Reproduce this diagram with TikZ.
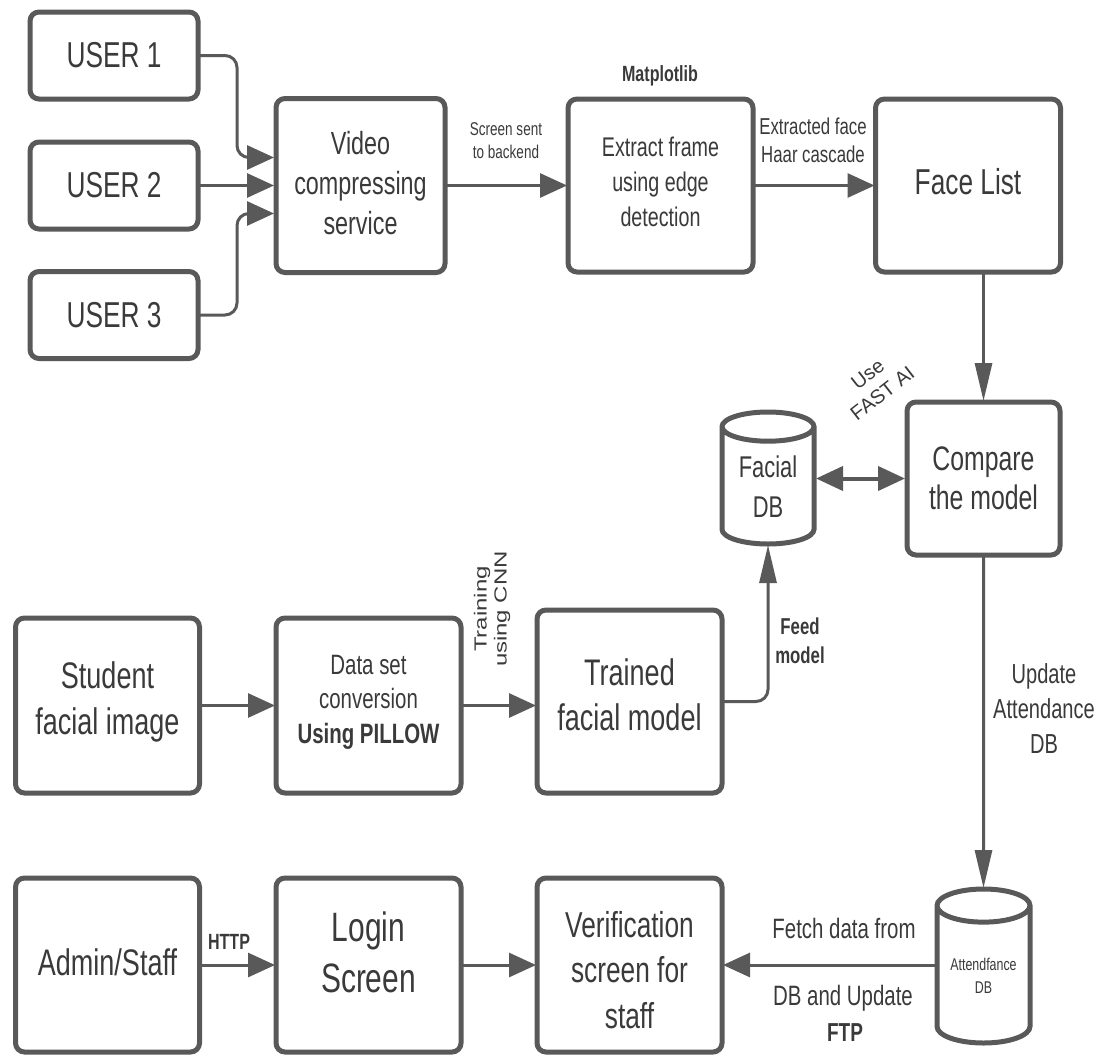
\documentclass[tikz,border=0pt]{standalone}
\usepackage{fontspec}
\setmainfont{Liberation Sans}
\newfontfamily\nf[FakeStretch=0.73]{Liberation Sans}
\newfontfamily\nfr[FakeStretch=1.37]{Liberation Sans}
\usetikzlibrary{arrows.meta,shapes.geometric,calc}
\definecolor{ln}{HTML}{595959}
\definecolor{tx}{HTML}{3A3A3A}
\newcommand\fsz[2]{\fontsize{#1}{#2}\selectfont}
\tikzset{
  box/.style={draw=ln,line width=5pt,rounded corners=9pt,fill=white,outer sep=0pt,inner sep=0pt,align=center,text=tx},
  cyl/.style={draw=ln,line width=5pt,fill=white,shape=cylinder,shape border rotate=90,aspect=0.5,anchor=shape center,outer sep=0pt,inner sep=0pt,align=center,text=tx},
  conn/.style={draw=ln,line width=3pt,rounded corners=12pt,-{Triangle[length=27pt,width=24pt]},shorten >=1pt},
  vconn/.style={draw=ln,line width=3pt,rounded corners=12pt,-{Triangle[length=38pt,width=17pt]},shorten >=1pt},
  conn2/.style={draw=ln,line width=4pt,{Triangle[length=27pt,width=24pt]}-{Triangle[length=27pt,width=24pt]},shorten >=2pt,shorten <=2pt},
  lbl/.style={align=center,text=tx,inner sep=0pt},
}
\begin{document}
\begin{tikzpicture}[x=1pt,y=-1pt]
\useasboundingbox (0,0) rectangle (1102,1055);
% boxes
\node[box,minimum width=168pt,minimum height=87pt,font=\nf\fsz{36}{40}] (u1) at (114,55.5) {USER 1};
\node[box,minimum width=168pt,minimum height=87pt,font=\nf\fsz{36}{40}] (u2) at (114,185.5) {USER 2};
\node[box,minimum width=168pt,minimum height=87pt,font=\nf\fsz{36}{40}] (u3) at (114,315) {USER 3};
\node[box,minimum width=169pt,minimum height=174pt] (video) at (360.5,185.5) {};
\node[lbl,font=\nf\fsz{32}{40}] (videotxt) at (360.5,183) {Video\\compressing\\service};
\node[box,minimum width=185pt,minimum height=173pt] (extract) at (660.5,185.5) {};
\node[lbl,font=\nf\fsz{27}{35}] (extracttxt) at (660.5,182) {Extract frame\\using edge\\detection};
\node[box,minimum width=185pt,minimum height=173pt] (face) at (968,185.5) {};
\node[lbl,font=\nf\fsz{36}{40}] (facetxt) at (968,182) {Face List};
\node[box,minimum width=153pt,minimum height=153pt,font=\nf\fsz{34}{39}] (compare) at (983.5,478.5) {Compare\\the model};
\node[cyl,minimum width=92pt,minimum height=132pt,font=\nf\fsz{30}{40}] (facial) at (768,478) {Facial\\DB};
\node[box,minimum width=184pt,minimum height=175pt] (student) at (107.5,705.5) {};
\node[lbl,font=\nf\fsz{37}{46}] (studenttxt) at (107.5,702) {Student\\facial image};
\node[box,minimum width=185pt,minimum height=175pt] (data) at (368.5,705.5) {};
\node[lbl,font=\nf\fsz{28}{34.5}] (datatxt) at (368.5,702) {Data set\\conversion\\\textbf{Using PILLOW}};
\node[box,minimum width=185pt,minimum height=183pt] (trained) at (629.5,701.5) {};
\node[lbl,font=\nf\fsz{37}{45}] (trainedtxt) at (629.5,694.5) {Trained\\facial model};
\node[box,minimum width=184pt,minimum height=174pt] (admin) at (107.5,965) {};
\node[lbl,font=\nf\fsz{37}{40}] (admintxt) at (107.5,962) {Admin/Staff};
\node[box,minimum width=185pt,minimum height=174pt] (login) at (368.5,965) {};
\node[lbl,font=\nf\fsz{41}{51}] (logintxt) at (368.5,952.5) {Login\\Screen};
\node[box,minimum width=185pt,minimum height=174pt] (verify) at (629.5,965) {};
\node[lbl,font=\nf\fsz{36}{45.5}] (verifytxt) at (629.5,970) {Verification\\screen for\\staff};
\node[cyl,minimum width=93pt,minimum height=154pt,font=\nf\fsz{17}{23}] (attend) at (983.5,966) {Attendfance\\DB};
% helper coordinates
\coordinate (v1) at ($(video.west)+(-1,-28)$);
\coordinate (v2) at ($(video.west)+(-1,0)$);
\coordinate (v3) at ($(video.west)+(-1,28)$);
\coordinate (k) at (237,0);
% connectors
\draw[conn] (u1.east) -- (k |- u1.east) -- (k |- v1) -- (v1);
\draw[conn] (u2.east) -- (v2);
\draw[conn] (u3.east) -- (k |- u3.east) -- (k |- v3) -- (v3);
\draw[conn] (video.east) -- (extract.west);
\draw[conn] (extract.east) -- (face.west);
\draw[vconn] (compare.north |- face.south) -- (compare.north);
\draw[conn2] (facial.east |- compare.west) -- (compare.west);
\draw[conn] (student.east) -- (data.west);
\draw[conn] (data.east) -- (trained.west |- data.east);
\draw[vconn] (trained.east) -| (facial.south);
\draw[conn] (admin.east) -- (login.west);
\draw[conn] (login.east) -- (verify.west);
\draw[vconn] (compare.south) -- (attend.north);
\draw[conn] (attend.west |- verify.east) -- (verify.east);
% labels
\node[lbl,font=\nf\fsz{18.5}{23}] (l1) at (506,140.5) {Screen sent\\to backend};
\node[lbl,font=\nf\bfseries\fsz{22}{22}] (l2) at (660,76) {Matplotlib};
\node[lbl,font=\nf\fsz{23}{28}] (l3) at (813,140) {Extracted face\\Haar cascade};
\node[lbl,rotate=38,font=\fsz{20}{24}] (l4) at (875,384) {Use\\FAST AI};
\node[lbl,rotate=90,font=\nfr\fsz{17.5}{20}] (l5) at (492,609) {Training\\using CNN};
\node[lbl,font=\nf\bfseries\fsz{23}{29}] (l6) at (800,641) {Feed\\model};
\node[lbl,font=\nf\fsz{27.5}{35}] (l7) at (1044,709) {Update\\Attendance\\DB};
\node[lbl,font=\nf\bfseries\fsz{22}{22}] (l8) at (229,942) {HTTP};
\node[lbl,font=\nf\fsz{28}{28}] (l9) at (844,928) {Fetch data from};
\node[lbl,font=\nf\fsz{28}{28}] (l10) at (843,998) {DB and Update};
\node[lbl,font=\nf\bfseries\fsz{26}{26}] (l11) at (845,1033) {FTP};
\end{tikzpicture}
\end{document}
